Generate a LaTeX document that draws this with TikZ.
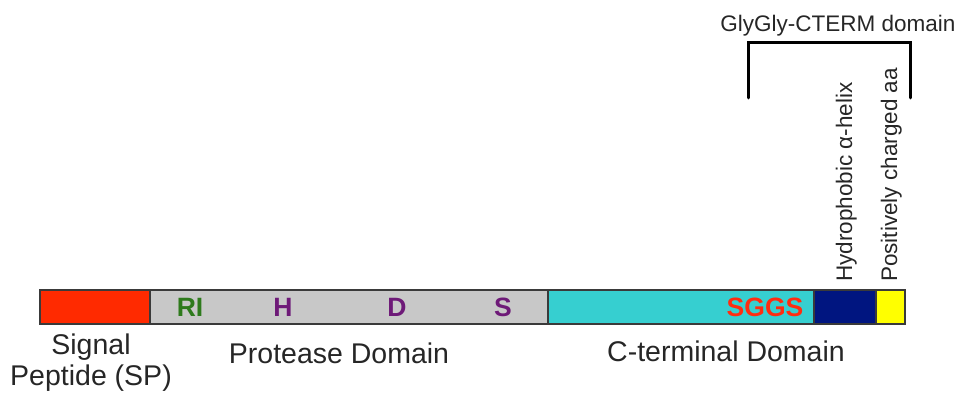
\documentclass[tikz,border=0pt]{standalone}
\usepackage{fontspec}
\setmainfont{Liberation Sans}
\definecolor{spred}{HTML}{FF2A00}
\definecolor{protgray}{HTML}{C8C8C8}
\definecolor{ctcyan}{HTML}{36CFD0}
\definecolor{hxnavy}{HTML}{001580}
\definecolor{posyellow}{HTML}{FFFF00}
\definecolor{rigreen}{HTML}{2E7A1C}
\definecolor{respurple}{HTML}{6E1A78}
\definecolor{sggsred}{HTML}{FF2C10}
\definecolor{edgegray}{HTML}{3A3A3A}
\begin{document}
\begin{tikzpicture}[x=1pt,y=-1pt,
  seg/.style={draw=edgegray,line width=1.2pt},
  biglabel/.style={inner sep=0pt,anchor=base,font=\fontsize{28.5}{31}\selectfont,text=black!85},
  smalllabel/.style={inner sep=0pt,font=\fontsize{22.5}{24}\selectfont,text=black!85},
  reslabel/.style={inner sep=0pt,anchor=base,font=\fontsize{26.5}{28}\selectfont\bfseries},
  bracketline/.style={draw=black,line width=3pt,line cap=round,line join=miter}]
\useasboundingbox (0,0) rectangle (959,395);
% bar segments
\filldraw[seg,fill=spred] (40,290) rectangle (150,324);
\filldraw[seg,fill=protgray] (150,290) rectangle (548,324);
\filldraw[seg,fill=ctcyan] (548,290) rectangle (814,324);
\filldraw[seg,fill=hxnavy] (814,290) rectangle (876,324);
\filldraw[seg,fill=posyellow] (876,290) rectangle (905,324);
% residue labels
\node[reslabel,text=rigreen] (ri) at (190,317) {RI};
\node[reslabel,text=respurple] (h) at (283,317) {H};
\node[reslabel,text=respurple] (d) at (397,317) {D};
\node[reslabel,text=respurple] (s) at (503,317) {S};
\node[reslabel,text=sggsred] (sggs) at (765,317) {SGGS};
% domain labels
\node[biglabel] (sig1) at (91,355) {Signal};
\node[biglabel] (sig2) at (91,385) {Peptide (SP)};
\node[biglabel] (prot) at (339,363) {Protease Domain};
\node[biglabel] (cterm) at (726,362) {C-terminal Domain};
% vertical labels
\node[smalllabel,rotate=90,anchor=base west] (hyd) at (852,282) {Hydrophobic α-helix};
\node[smalllabel,rotate=90,anchor=base west] (pos) at (897,282) {Positively charged aa};
% bracket
\coordinate (bl) at (748,98);
\coordinate (br) at (910,98);
\draw[bracketline] (bl) |- (829,43) -| (br);
\node[smalllabel,anchor=base] (gg) at (838,32) {GlyGly-CTERM domain};
\end{tikzpicture}
\end{document}
